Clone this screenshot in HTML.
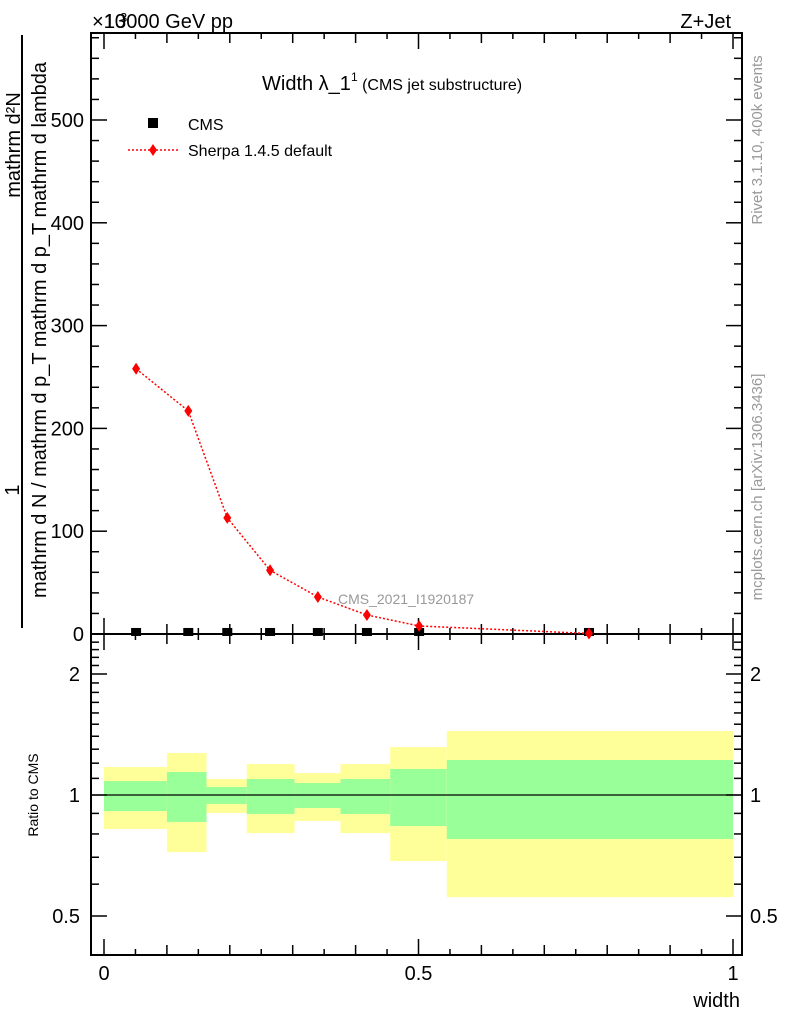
<!DOCTYPE html>
<html><head><meta charset="utf-8"><style>
html,body{margin:0;padding:0;background:#fff;}
svg{display:block;font-family:"Liberation Sans",sans-serif;}
</style></head><body>
<svg id="chart" width="786" height="1024" viewBox="0 0 786 1024" xmlns="http://www.w3.org/2000/svg">
<g id="g"></g>
</svg>
<script>
// ---- data ----
const sherpaX = [0.051, 0.134, 0.196, 0.264, 0.340, 0.418, 0.501, 0.771];
const sherpaY = [258, 217, 113, 62, 36, 18.5, 7.8, 0.5];
const cmsX = [0.051, 0.134, 0.196, 0.264, 0.340, 0.418, 0.501, 0.771];
const cmsY = [1.0, 1.0, 1.0, 1.0, 1.0, 1.0, 1.0, 1.0];
const binEdges = [0, 0.1, 0.163, 0.227, 0.303, 0.376, 0.455, 0.545, 1.0];
const yellowLo = [0.823, 0.721, 0.902, 0.804, 0.862, 0.804, 0.685, 0.557];
const yellowHi = [1.174, 1.272, 1.096, 1.194, 1.134, 1.194, 1.316, 1.443];
const greenLo = [0.912, 0.857, 0.950, 0.897, 0.928, 0.897, 0.837, 0.777];
const greenHi = [1.083, 1.141, 1.047, 1.096, 1.071, 1.096, 1.161, 1.222];
const mainTicks = [0, 100, 200, 300, 400, 500];
const ratioTicks = [0.5, 1, 2];
const xTicks = [0, 0.5, 1];

// ---- axes ----
const L=91, R=742, T=33, B=634, RB=955;
const X = v => 104 + 629*v;
const Y = v => 634 - 1.028*v;
const RY = r => 795 - 121*Math.log2(r);
const NS="http://www.w3.org/2000/svg";
const g=document.getElementById('g');
function el(tag, attrs, text){const e=document.createElementNS(NS,tag);for(const k in attrs)e.setAttribute(k,attrs[k]);if(text!==undefined)e.textContent=text;g.appendChild(e);return e;}

// ratio bands
for(let i=0;i<yellowLo.length;i++){
  const x0=X(binEdges[i]), x1=X(binEdges[i+1]);
  const y=el('rect',{x:x0,y:RY(yellowHi[i]),width:x1-x0,height:RY(yellowLo[i])-RY(yellowHi[i]),fill:'#ffff99'});
  
  
  const gr=el('rect',{x:x0,y:RY(greenHi[i]),width:x1-x0,height:RY(greenLo[i])-RY(greenHi[i]),fill:'#99ff99'});
  
  
}
const one=el('line',{x1:L,x2:R,y1:RY(1),y2:RY(1),stroke:'#000','stroke-width':1.2});



// frames
const f1=el('rect',{x:L,y:T,width:R-L,height:B-T,fill:'none',stroke:'#000','stroke-width':2});


const f2=el('rect',{x:L,y:B,width:R-L,height:RB-B,fill:'none',stroke:'#000','stroke-width':2});



// x ticks
for(let k=0;k<=20;k++){
  const v=k*0.05, x=X(v);
  const len = (k%10===0)?16:((k%2===0)?10:6);
  [[B,-1],[T,1],[RB,-1],[B,1]].forEach(([y0,d])=>{
    const t=el('line',{x1:x,x2:x,y1:y0,y2:y0+d*len,stroke:'#000','stroke-width':1.5});
    
    
  });
}
xTicks.forEach(v=>{
  const t=el('text',{x:X(v),y:980,'font-size':20,'text-anchor':'middle'},String(v));
  
  
});
// main y ticks
for(let v=0;v<=580;v+=20){
  const y=Y(v), len=(v%100===0)?16:8;
  [[L,1],[R,-1]].forEach(([x0,d])=>{
    const t=el('line',{x1:x0,x2:x0+d*len,y1:y,y2:y,stroke:'#000','stroke-width':1.5});
    
    
  });
}
mainTicks.forEach(v=>{
  const t=el('text',{x:84,y:Y(v)+7,'font-size':20,'text-anchor':'end'},String(v));
  
  
});
// ratio y ticks
for(let k=5;k<=24;k++){
  const r=k/10, y=RY(r);
  if(y<B||y>RB) continue;
  const len=(k===5||k===10||k===20)?16:8;
  [[L,1],[R,-1]].forEach(([x0,d])=>{
    const t=el('line',{x1:x0,x2:x0+d*len,y1:y,y2:y,stroke:'#000','stroke-width':1.5});
    
    
  });
}
ratioTicks.forEach(r=>{
  const t=el('text',{x:80,y:RY(r)+7,'font-size':20,'text-anchor':'end'},String(r));
  
  
  const t2=el('text',{x:750,y:RY(r)+7,'font-size':20,'text-anchor':'start'},String(r));
  
  
});

// sherpa line + markers
const pts=sherpaX.map((x,i)=>X(x)+','+Y(sherpaY[i])).join(' ');
const pl=el('polyline',{points:pts,fill:'none',stroke:'#ff0000','stroke-width':1.5,'stroke-dasharray':'2,2'});


// cms markers
cmsX.forEach((x,i)=>{
  const r=el('rect',{x:X(x)-5,y:Y(cmsY[i])-5,width:10,height:8,fill:'#000'});
  
  
});
sherpaX.forEach((x,i)=>{
  const cx=X(x), cy=Y(sherpaY[i]);
  const d=el('polygon',{points:`${cx},${cy-6} ${cx+4},${cy} ${cx},${cy+6} ${cx-4},${cy}`,fill:'#ff0000'});
  
  
});
</script>
<svg width="786" height="1024" style="position:absolute;left:0;top:0;font-family:'Liberation Sans',sans-serif">
<text x="92" y="28" font-size="20">×10</text>
<text x="120" y="22" font-size="13">3</text>
<text x="104" y="28" font-size="20">13000 GeV pp</text>
<text x="731" y="28" font-size="20" text-anchor="end">Z+Jet</text>
<text x="262" y="90" font-size="20">Width λ_1<tspan font-size="12" dy="-9">1</tspan><tspan font-size="16" dy="9"> (CMS jet substructure)</tspan></text>
<rect x="148" y="118" width="10" height="10" fill="#000"/>
<text x="188" y="130" font-size="16">CMS</text>
<line x1="128" x2="178" y1="150" y2="150" stroke="#f00" stroke-width="1.5" stroke-dasharray="2,2"/>
<polygon points="153,144 157,150 153,156 149,150" fill="#f00"/>
<text x="188" y="156" font-size="16">Sherpa 1.4.5 default</text>
<text x="338" y="604" font-size="14" fill="#999">CMS_2021_I1920187</text>
<text x="740" y="1007" font-size="20" text-anchor="end">width</text>
<text transform="translate(38,795) rotate(-90)" font-size="14" text-anchor="middle">Ratio to CMS</text>
<text transform="translate(762,140) rotate(-90)" font-size="15" fill="#999" text-anchor="middle">Rivet 3.1.10,  400k events</text>
<text transform="translate(762,487) rotate(-90)" font-size="15" fill="#999" text-anchor="middle">mcplots.cern.ch [arXiv:1306.3436]</text>
<line x1="22" x2="22" y1="35" y2="628" stroke="#000" stroke-width="2"/>
<text transform="translate(19,490) rotate(-90)" font-size="20" text-anchor="middle">1</text>
<text transform="translate(20,145) rotate(-90)" font-size="20" text-anchor="middle">mathrm d²N</text>
<text transform="translate(46,330) rotate(-90)" font-size="20" text-anchor="middle">mathrm d N / mathrm d p_T mathrm d p_T mathrm d lambda</text>
</svg>
</body></html>
